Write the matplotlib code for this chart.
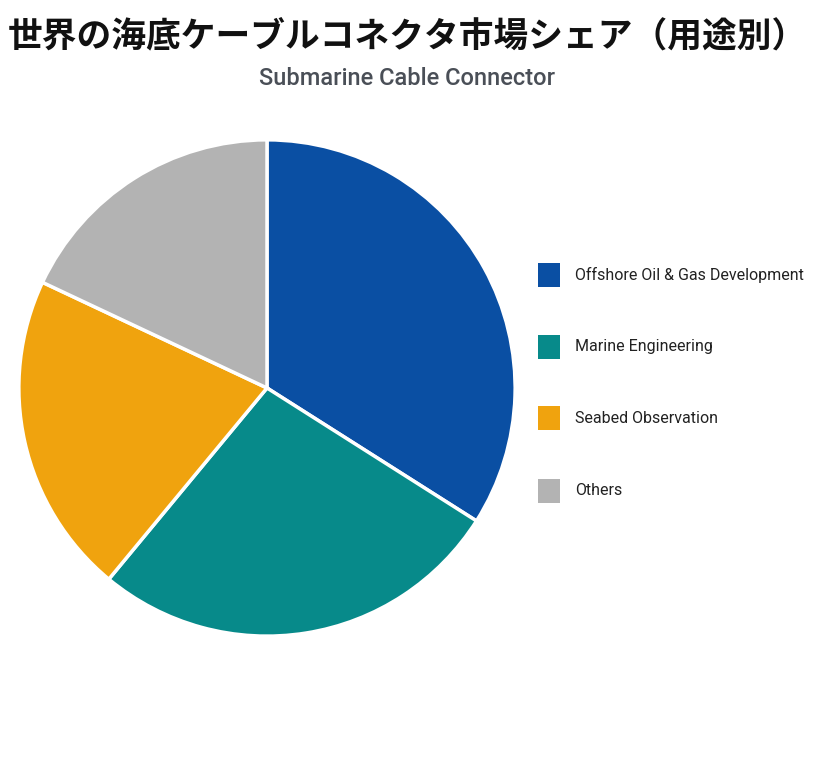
import matplotlib.pyplot as plt
from matplotlib.patches import Rectangle

plt.rcParams['font.family'] = ['Noto Sans CJK JP', 'DejaVu Sans']

TITLE = "世界の海底ケーブルコネクタ市場シェア（用途別）"
SUBTITLE = "Submarine Cable Connector"
labels = ["Offshore Oil & Gas Development", "Marine Engineering", "Seabed Observation", "Others"]
shares = [34, 27, 21, 18]
colors = ["#0A4FA3", "#078A8A", "#F0A30E", "#B3B3B3"]

fig = plt.figure(figsize=(8.14, 7.6), dpi=100)
fig.patch.set_facecolor("white")

ax = fig.add_axes([0.023, 0.163, 0.61, 0.653])
ax.pie(shares, colors=colors, startangle=90, counterclock=False, radius=1.0,
       wedgeprops=dict(edgecolor="white", linewidth=2.5))
ax.set_xlim(-1.0, 1.0)
ax.set_ylim(-1.0, 1.0)
ax.set_aspect("equal")

fig.text(0.5, 0.953, TITLE, ha="center", va="center", fontsize=25, fontweight="bold", color="#111111")
fig.text(0.5, 0.897, SUBTITLE, ha="center", va="center", fontsize=17, color="#4a4f57",
         family=["Roboto", "DejaVu Sans"], fontweight="medium")

ys = [275, 347, 418, 491]
for lab, col, y in zip(labels, colors, ys):
    yf = 1 - y / 760
    fig.patches.append(Rectangle((538 / 814, yf - 12 / 760), 22 / 814, 24 / 760,
                                 transform=fig.transFigure, facecolor=col, edgecolor="none"))
    fig.text(575 / 814, yf, lab, ha="left", va="center", fontsize=11.5, color="#222222",
             family=["Roboto", "DejaVu Sans"])

fig.savefig("out.png", dpi=100, facecolor="white")
